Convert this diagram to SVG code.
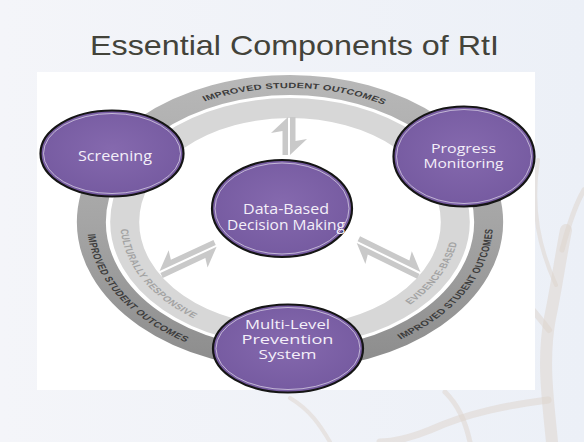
<svg xmlns="http://www.w3.org/2000/svg" width="584" height="442" viewBox="0 0 584 442">
<defs>
<style>
.title{font-family:"Liberation Sans",Arial,sans-serif;font-size:28.5px;fill:#43433a}
.ring-dark{fill:none;stroke:url(#gDark);stroke-width:20}
.ring-light{fill:none;stroke:#d7d7d7;stroke-width:20}
.rt{font-family:"Liberation Sans",Arial,sans-serif;font-weight:bold;font-size:7.6px}
.rt-dark{fill:#3c3c3c}
.rt-light{fill:#a3a3a3}
.arrow{fill:#c9c9c9}
.node-fill{fill:url(#gNode);stroke:#151515;stroke-width:2.2}
.node-hl{fill:none;stroke:#ffffff;stroke-opacity:0.55;stroke-width:1}
.nt{font-family:"Open Sans","Noto Sans",sans-serif;font-size:14.5px;fill:#f4eff9;text-anchor:middle}
.nt-s{font-size:13.5px}
.nt-xs{font-size:13px}
.tree{fill:none;stroke:#ddd3cb;stroke-linecap:round;opacity:0.5}
</style>
<linearGradient id="gBg" x1="0" y1="0" x2="1" y2="0">
<stop offset="0" stop-color="#f4f5f9"/>
<stop offset="1" stop-color="#ecf0f7"/>
</linearGradient>
<linearGradient id="gDark" gradientUnits="userSpaceOnUse" x1="0" y1="-147" x2="0" y2="147">
<stop offset="0" stop-color="#b8b8b8"/>
<stop offset="0.5" stop-color="#a5a5a5"/>
<stop offset="1" stop-color="#8c8c8c"/>
</linearGradient>
<radialGradient id="gNode" cx="0.5" cy="0.45" r="0.6">
<stop offset="0" stop-color="#8569ae"/>
<stop offset="1" stop-color="#74599f"/>
</radialGradient>
<path id="pTop" d="M -58.74 -120.44 A 134 134 0 0 1 64.97 -117.20"/>
<path id="pLeft" d="M -139.47 12.20 A 140 140 0 0 0 -70 121.24"/>
<path id="pRight" d="M 76.25 117.41 A 140 140 0 0 0 139.91 4.89"/>
<path id="pCR" d="M -116.78 7.14 A 117 117 0 0 0 -64.57 97.57"/>
<path id="pEB" d="M 82.73 82.73 A 117 117 0 0 0 115.40 19.31"/>
</defs>

<g id="background">
<rect x="0" y="0" width="584" height="442" fill="url(#gBg)"/>
<path class="tree" stroke-width="12" d="M 552 442 C 548 400 542 360 550 318 C 556 290 560 260 566 230"/>
<path class="tree" stroke-width="6" d="M 549 330 C 525 300 505 275 478 258"/>
<path class="tree" stroke-width="5" d="M 562 250 C 570 220 578 200 584 190"/>
<path class="tree" stroke-width="4" d="M 556 285 C 540 250 530 210 538 160"/>
<path class="tree" stroke-width="7" d="M 548 400 C 510 405 470 412 430 430 C 410 438 395 442 380 442"/>
<path class="tree" stroke-width="5" d="M 470 442 C 465 420 458 405 445 392"/>
<path class="tree" stroke-width="4" d="M 330 442 C 320 425 310 410 290 398"/>
</g>

<rect id="panel" x="37" y="72" width="498" height="318" fill="#ffffff"/>

<text class="title" x="90" y="55" textLength="409" lengthAdjust="spacingAndGlyphs">Essential Components of RtI</text>

<g id="ring" transform="translate(290,222) scale(1.45,1)">
<circle class="ring-dark" cx="0" cy="0" r="137"/>
<circle class="ring-light" cx="0" cy="0" r="114"/>
<text class="rt rt-dark"><textPath href="#pTop" textLength="128">IMPROVED STUDENT OUTCOMES</textPath></text>
<text class="rt rt-dark"><textPath href="#pLeft" textLength="132">IMPROVED STUDENT OUTCOMES</textPath></text>
<text class="rt rt-dark"><textPath href="#pRight" textLength="132">IMPROVED STUDENT OUTCOMES</textPath></text>
<text class="rt rt-light"><textPath href="#pCR" textLength="106">CULTURALLY RESPONSIVE</textPath></text>
<text class="rt rt-light"><textPath href="#pEB" textLength="71">EVIDENCE-BASED</textPath></text>
</g>

<g id="connectors">
<g transform="translate(289,117) rotate(90) scale(1,-1)">
<polygon class="arrow" points="0,-1 38,-1 38,-6.5 14,-6.5 16,-18"/>
<polygon class="arrow" points="38,1 0,1 0,6.5 24,6.5 22,18"/>
</g>
<g transform="translate(160,272) rotate(-25)">
<polygon class="arrow" points="0,-1 62,-1 62,-6.5 15,-6.5 17,-16"/>
<polygon class="arrow" points="62,1 0,1 0,6.5 47,6.5 45,16"/>
</g>
<g transform="translate(420,273) rotate(206.2) scale(1,-1)">
<polygon class="arrow" points="0,-1 70,-1 70,-6.5 15,-6.5 17,-16"/>
<polygon class="arrow" points="70,1 0,1 0,6.5 55,6.5 53,16"/>
</g>
</g>

<g id="node-screening">
<ellipse class="node-fill" cx="112" cy="153.5" rx="71.5" ry="43"/>
<ellipse class="node-hl" cx="112" cy="153.5" rx="68.5" ry="40"/>
<text class="nt" x="115" y="161" textLength="74" lengthAdjust="spacingAndGlyphs">Screening</text>
</g>

<g id="node-progress">
<ellipse class="node-fill" cx="464" cy="156.5" rx="70.5" ry="50"/>
<ellipse class="node-hl" cx="464" cy="156.5" rx="67.5" ry="47"/>
<text class="nt nt-s" x="463.5" y="152.5" textLength="65" lengthAdjust="spacingAndGlyphs">Progress</text>
<text class="nt nt-s" x="463.5" y="168" textLength="80" lengthAdjust="spacingAndGlyphs">Monitoring</text>
</g>

<g id="node-data">
<ellipse class="node-fill" cx="282" cy="208.5" rx="70" ry="48.5"/>
<ellipse class="node-hl" cx="282" cy="208.5" rx="67" ry="45.5"/>
<text class="nt" x="286" y="214" textLength="86" lengthAdjust="spacingAndGlyphs">Data-Based</text>
<text class="nt" x="286" y="230" textLength="118" lengthAdjust="spacingAndGlyphs">Decision Making</text>
</g>

<g id="node-multilevel">
<ellipse class="node-fill" cx="288" cy="348.5" rx="75" ry="44"/>
<ellipse class="node-hl" cx="288" cy="348.5" rx="72" ry="41"/>
<text class="nt nt-xs" x="287.5" y="328.5" textLength="85" lengthAdjust="spacingAndGlyphs">Multi-Level</text>
<text class="nt nt-xs" x="287.5" y="343.5" textLength="92" lengthAdjust="spacingAndGlyphs">Prevention</text>
<text class="nt nt-xs" x="287.5" y="358.5" textLength="58" lengthAdjust="spacingAndGlyphs">System</text>
</g>
</svg>
